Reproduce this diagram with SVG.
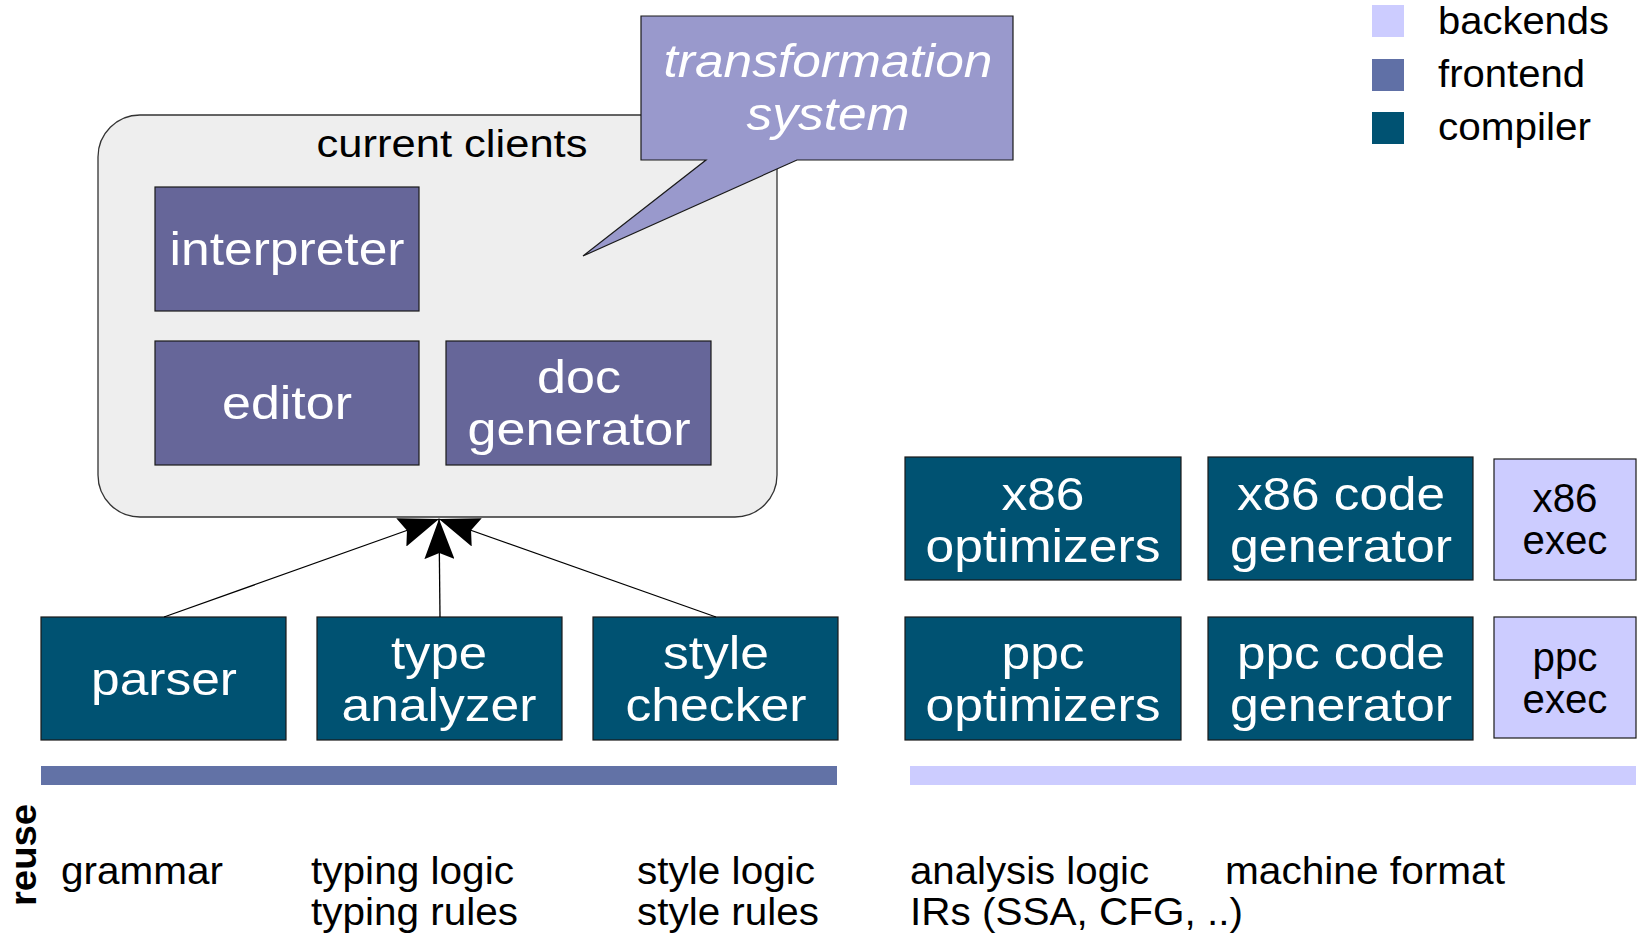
<svg xmlns="http://www.w3.org/2000/svg" width="1639" height="933" viewBox="0 0 1639 933">
<style>
text{font-family:"Liberation Sans",Arial,sans-serif}
.comp{fill:#005272;stroke:#1a1a1a;stroke-width:1.2}
.fe{fill:#666699;stroke:#1a1a1a;stroke-width:1.2}
.be{fill:#ccccff;stroke:#1a1a1a;stroke-width:1.2}
.wt{fill:#ffffff;font-size:47px;text-anchor:middle}
.bt{fill:#000000;font-size:40px;text-anchor:middle}
.lbl{fill:#000000;font-size:38px}
.conn{stroke:#000;stroke-width:1.3;fill:none;marker-end:url(#ah)}
</style>
<defs>
<marker id="ah" markerUnits="userSpaceOnUse" markerWidth="40" markerHeight="30" viewBox="0 0 40 30" refX="40" refY="15" orient="auto">
<path d="M0,0 L40,15 L0,30 L6,15 Z" fill="#000"/>
</marker>
</defs>
<rect width="1639" height="933" fill="#ffffff"/>

<g id="legend">
<rect x="1372" y="5" width="32" height="32" fill="#ccccff"/>
<rect x="1372" y="59" width="32" height="32" fill="#6070a6"/>
<rect x="1372" y="112" width="32" height="32" fill="#005272"/>
<text class="lbl" x="1438" y="34" textLength="171" lengthAdjust="spacingAndGlyphs">backends</text>
<text class="lbl" x="1438" y="87" textLength="147" lengthAdjust="spacingAndGlyphs">frontend</text>
<text class="lbl" x="1438" y="140" textLength="153" lengthAdjust="spacingAndGlyphs">compiler</text>
</g>

<g id="current-clients">
<rect x="98" y="115" width="679" height="402" rx="42" ry="42" fill="#eeeeee" stroke="#333333" stroke-width="1.3"/>
<text class="lbl" x="452" y="157" text-anchor="middle" textLength="271" lengthAdjust="spacingAndGlyphs">current clients</text>
</g>

<g id="interpreter">
<rect class="fe" x="155" y="187" width="264" height="124"/>
<text class="wt" x="287" y="265" textLength="235" lengthAdjust="spacingAndGlyphs">interpreter</text>
</g>
<g id="editor">
<rect class="fe" x="155" y="341" width="264" height="124"/>
<text class="wt" x="287" y="419" textLength="130" lengthAdjust="spacingAndGlyphs">editor</text>
</g>
<g id="doc-generator">
<rect class="fe" x="446" y="341" width="265" height="124"/>
<text class="wt" x="579" y="393" textLength="84" lengthAdjust="spacingAndGlyphs">doc</text>
<text class="wt" x="579" y="445" textLength="223" lengthAdjust="spacingAndGlyphs">generator</text>
</g>

<g id="transformation-system">
<path d="M641,16 H1013 V160 H797 L583,256 L706,160 H641 Z" fill="#9999cc" stroke="#1a1a1a" stroke-width="1.2"/>
<text class="wt" x="828" y="77" font-style="italic" font-size="48" textLength="329" lengthAdjust="spacingAndGlyphs">transformation</text>
<text class="wt" x="828" y="130" font-style="italic" font-size="48" textLength="163" lengthAdjust="spacingAndGlyphs">system</text>
</g>

<g id="parser">
<rect class="comp" x="41" y="617" width="245" height="123"/>
<text class="wt" x="164" y="695" textLength="146" lengthAdjust="spacingAndGlyphs">parser</text>
</g>
<g id="type-analyzer">
<rect class="comp" x="317" y="617" width="245" height="123"/>
<text class="wt" x="439" y="669" textLength="96" lengthAdjust="spacingAndGlyphs">type</text>
<text class="wt" x="439" y="721" textLength="195" lengthAdjust="spacingAndGlyphs">analyzer</text>
</g>
<g id="style-checker">
<rect class="comp" x="593" y="617" width="245" height="123"/>
<text class="wt" x="716" y="669" textLength="106" lengthAdjust="spacingAndGlyphs">style</text>
<text class="wt" x="716" y="721" textLength="181" lengthAdjust="spacingAndGlyphs">checker</text>
</g>

<g id="x86-optimizers">
<rect class="comp" x="905" y="457" width="276" height="123"/>
<text class="wt" x="1043" y="510" textLength="83" lengthAdjust="spacingAndGlyphs">x86</text>
<text class="wt" x="1043" y="562" textLength="235" lengthAdjust="spacingAndGlyphs">optimizers</text>
</g>
<g id="x86-code-generator">
<rect class="comp" x="1208" y="457" width="265" height="123"/>
<text class="wt" x="1341" y="510" textLength="208" lengthAdjust="spacingAndGlyphs">x86 code</text>
<text class="wt" x="1341" y="562" textLength="222" lengthAdjust="spacingAndGlyphs">generator</text>
</g>
<g id="x86-exec">
<rect class="be" x="1494" y="459" width="142" height="121"/>
<text class="bt" x="1565" y="512" textLength="65" lengthAdjust="spacingAndGlyphs">x86</text>
<text class="bt" x="1565" y="554" textLength="85" lengthAdjust="spacingAndGlyphs">exec</text>
</g>
<g id="ppc-optimizers">
<rect class="comp" x="905" y="617" width="276" height="123"/>
<text class="wt" x="1043" y="669" textLength="83" lengthAdjust="spacingAndGlyphs">ppc</text>
<text class="wt" x="1043" y="721" textLength="235" lengthAdjust="spacingAndGlyphs">optimizers</text>
</g>
<g id="ppc-code-generator">
<rect class="comp" x="1208" y="617" width="265" height="123"/>
<text class="wt" x="1341" y="669" textLength="208" lengthAdjust="spacingAndGlyphs">ppc code</text>
<text class="wt" x="1341" y="721" textLength="222" lengthAdjust="spacingAndGlyphs">generator</text>
</g>
<g id="ppc-exec">
<rect class="be" x="1494" y="617" width="142" height="121"/>
<text class="bt" x="1565" y="671" textLength="65" lengthAdjust="spacingAndGlyphs">ppc</text>
<text class="bt" x="1565" y="713" textLength="85" lengthAdjust="spacingAndGlyphs">exec</text>
</g>

<g id="connectors">
<line class="conn" x1="164" y1="617" x2="439" y2="519"/>
<line class="conn" x1="440" y1="617" x2="439" y2="519"/>
<line class="conn" x1="716" y1="617" x2="439" y2="519"/>
</g>

<g id="reuse-bars">
<rect x="41" y="766" width="796" height="19" fill="#6272a6"/>
<rect x="910" y="766" width="726" height="19" fill="#ccccff"/>
</g>

<g id="reuse-labels">
<text x="36" y="855" font-size="36" font-weight="bold" text-anchor="middle" transform="rotate(-90 36 855)" fill="#000" textLength="102" lengthAdjust="spacingAndGlyphs">reuse</text>
<text class="lbl" x="61" y="884" textLength="162" lengthAdjust="spacingAndGlyphs">grammar</text>
<text class="lbl" x="311" y="884" textLength="203" lengthAdjust="spacingAndGlyphs">typing logic</text>
<text class="lbl" x="311" y="925" textLength="207" lengthAdjust="spacingAndGlyphs">typing rules</text>
<text class="lbl" x="637" y="884" textLength="178" lengthAdjust="spacingAndGlyphs">style logic</text>
<text class="lbl" x="637" y="925" textLength="182" lengthAdjust="spacingAndGlyphs">style rules</text>
<text class="lbl" x="910" y="884" textLength="239" lengthAdjust="spacingAndGlyphs">analysis logic</text>
<text class="lbl" x="910" y="925" textLength="333" lengthAdjust="spacingAndGlyphs">IRs (SSA, CFG, ..)</text>
<text class="lbl" x="1225" y="884" textLength="280" lengthAdjust="spacingAndGlyphs">machine format</text>
</g>
</svg>
